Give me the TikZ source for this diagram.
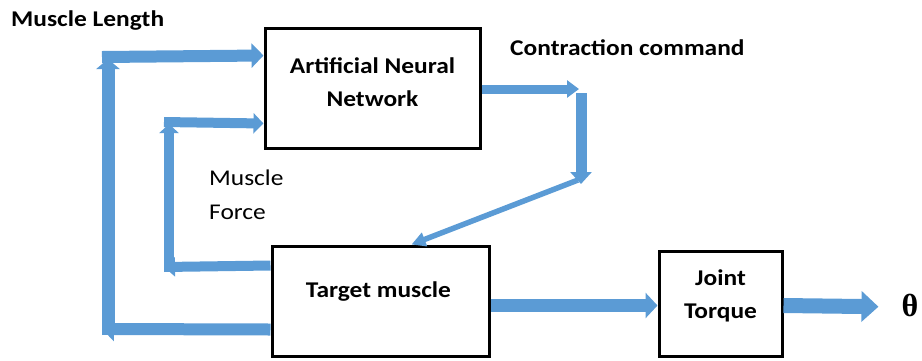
\documentclass[tikz,border=0pt]{standalone}
\usepackage{fontspec}
\setmainfont{Carlito}[FakeStretch=1.13]
\newfontfamily\thetafont{Liberation Serif}
\usetikzlibrary{arrows.meta,calc}
\definecolor{arrowblue}{HTML}{5B9BD5}
\tikzset{
  box/.style={draw=black, line width=3pt, rectangle, inner sep=0pt},
  lbl/.style={font=\fontsize{22.5}{33}\selectfont\bfseries, align=center, inner sep=0pt},
  plainlbl/.style={font=\fontsize{22.5}{34}\selectfont, align=left, inner sep=0pt},
  ar/.style n args={3}{draw=arrowblue, line width=#1, -{Triangle[width=#2,length=#3]}},
}
\begin{document}
\begin{tikzpicture}[x=1pt,y=-1pt]
\useasboundingbox (0,0) rectangle (922,360);
% boxes
\node[box, minimum width=215pt, minimum height=120pt] (ann) at (372.5,88) {};
\node[box, minimum width=217pt, minimum height=110pt] (tm) at (380.5,301) {};
\node[box, minimum width=123pt, minimum height=105pt] (jt) at (720.5,303.5) {};
% texts
\node[lbl] (annt) at ([yshift=6pt]ann.center) {Artificial Neural\\Network};
\node[lbl] (tmt) at (378.5,292) {Target muscle};
\node[lbl] (jtt) at (720.5,296) {Joint\\Torque};
\node[lbl, anchor=west] (mlt) at (11,21) {Muscle Length};
\node[lbl, anchor=west] (cct) at (510,48) {Contraction command};
\node[plainlbl, anchor=west] (mft) at (209,195) {Muscle\\Force};
\node[font=\thetafont\bfseries\fontsize{32}{34}\selectfont, inner sep=0pt] (th) at (910,305) {θ};
% coordinates
\coordinate (mlb) at (102,329);
\coordinate (mlv0) at (108,335);
\coordinate (mlv1) at (108,59);
\coordinate (mlt0) at (102,57);
\coordinate (fb) at (164,267);
\coordinate (fv0) at (169,272);
\coordinate (fv1) at (169,124);
\coordinate (ft0) at (164,122);
\coordinate (cc1) at (579,89);
\coordinate (cc2) at (581,93);
\coordinate (cc3) at (581,184);
\coordinate (cc4) at (578,180);
% muscle length loop
\draw[ar={12pt}{24pt}{12pt}] ([yshift=28pt]tm.south west) -- (mlb);
\draw[ar={13pt}{23pt}{10pt}] (mlv0) -- (mlv1);
\draw[ar={12pt}{24pt}{12pt}] (mlt0) -- ([yshift=-29pt]ann.north west);
% muscle force loop
\draw[ar={10pt}{19pt}{11pt}] ([yshift=-21pt]tm.north west) -- (fb);
\draw[ar={10pt}{19pt}{9pt}] (fv0) -- (fv1);
\draw[ar={10pt}{20pt}{10pt}] (ft0) -- ([yshift=26pt]ann.south west);
% contraction command
\draw[ar={9pt}{17pt}{12pt}] ([yshift=-1pt]ann.east) -- (cc1);
\draw[ar={11pt}{21pt}{12pt}] (cc2) -- (cc3);
\draw[ar={5.5pt}{14pt}{14pt}] (cc4) -- ([xshift=31pt]tm.north);
% outputs
\draw[ar={13pt}{25pt}{12pt}] ([yshift=-2pt]tm.east |- jt.west) -- ([yshift=-2pt]jt.west);
\draw[ar={15pt}{30pt}{17pt}, shorten >=23pt] ([yshift=-2pt]jt.east) -- ([yshift=-2pt]th.west);
\end{tikzpicture}
\end{document}
